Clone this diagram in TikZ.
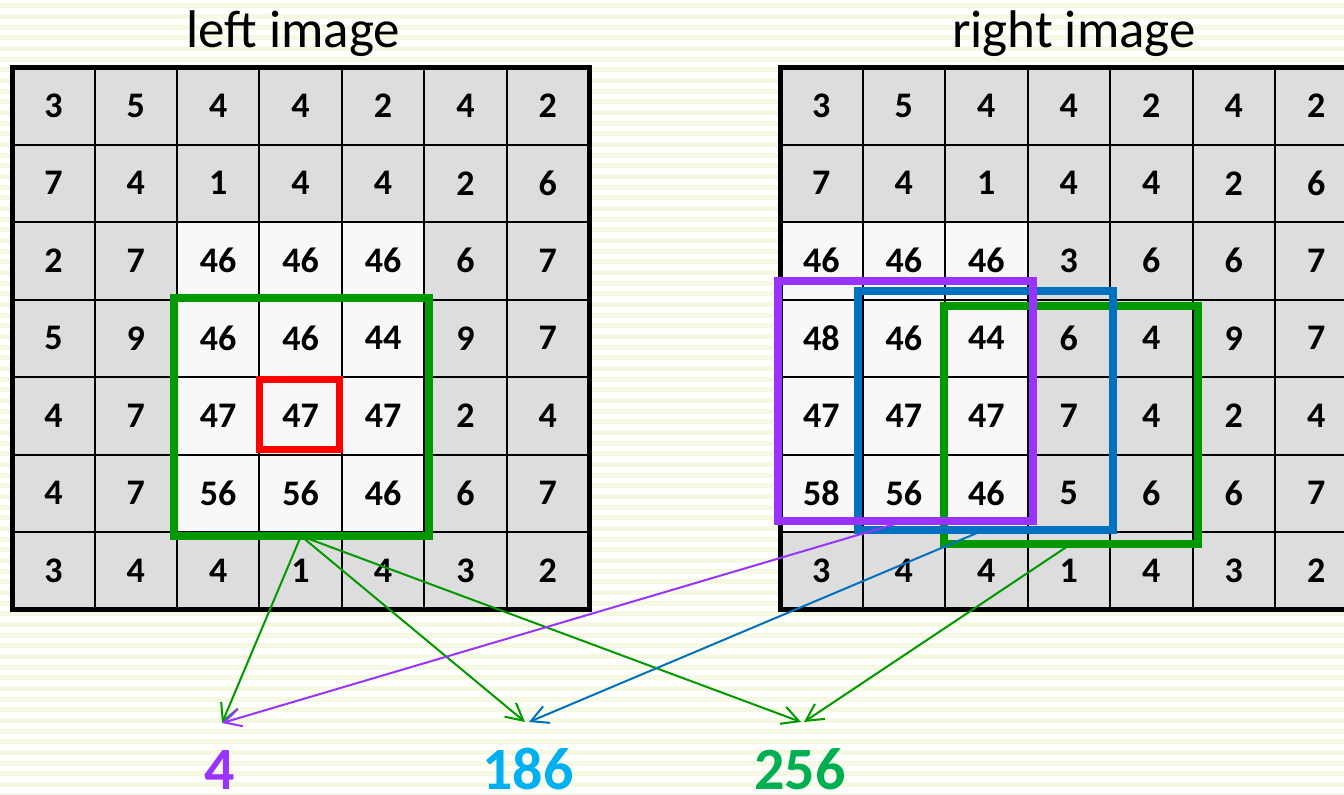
\documentclass[tikz,border=0pt]{standalone}
\usepackage{fontspec}
\setmainfont{Carlito}
\usetikzlibrary{arrows.meta}
\definecolor{stripe}{HTML}{F6F9E1}
\definecolor{cellg}{HTML}{DDDDDD}
\definecolor{cellw}{HTML}{F8F8F8}
\definecolor{boxgreen}{HTML}{009900}
\definecolor{boxred}{HTML}{FF0000}
\definecolor{boxpurple}{HTML}{9933FF}
\definecolor{boxblue}{HTML}{0070C0}
\definecolor{lblcyan}{HTML}{00B0F0}
\definecolor{lblgreen}{HTML}{00B050}
\tikzset{
  cellbox/.style={draw=black, line width=2pt, minimum width=82.4pt, minimum height=77.5pt,
    inner sep=0pt, outer sep=0pt, font=\fontsize{36}{36}\selectfont\bfseries},
  gridframe/.style={draw=black, line width=5pt, inner sep=0pt, outer sep=0pt},
  selbox/.style={line width=8pt, inner sep=0pt, outer sep=0pt},
  title/.style={anchor=base, inner sep=0pt, font=\fontsize{53}{53}\selectfont},
  result/.style={anchor=base, inner sep=0pt, font=\fontsize{60}{60}\selectfont\bfseries},
  link/.style={line width=2pt, -{Straight Barb[length=17pt,width=18pt,line width=2pt]}},
}
\begin{document}
\begin{tikzpicture}[x=1pt,y=-1pt]
\useasboundingbox (0,0) rectangle (1344,795);
\begin{scope}
\clip (0,0) rectangle (1344,795);
\fill[white] (0,0) rectangle (1344,795);
\foreach \k in {0,...,75} \fill[stripe] (0,{3.3+\k*10.667}) rectangle (1344,{8.3+\k*10.667});

% titles
\node[title] (tl) at (293.5,47) {left image};
\node[title] (tr) at (1074,47) {right image};

% left grid
\foreach \row [count=\r from 0] in {{3,5,4,4,2,4,2},{7,4,1,4,4,2,6},{2,7,46,46,46,6,7},{5,9,46,46,44,9,7},{4,7,47,47,47,2,4},{4,7,56,56,46,6,7},{3,4,4,1,4,3,2}}{
  \foreach \v [count=\c from 0] in \row {
    \pgfmathtruncatemacro\isw{(\r>=2)*(\r<=5)*(\c>=2)*(\c<=4)}
    \ifnum\isw=1 \def\cf{cellw}\else\def\cf{cellg}\fi
    \node[cellbox, fill=\cf] (L-\r-\c) at ({12.2+(\c+0.5)*82.4},{67+(\r+0.5)*77.5}) {\v};
  }
}
\node[gridframe, minimum width=576.8pt, minimum height=542.5pt] (Lgrid) at (300.6,338.25) {};

% right grid
\foreach \row [count=\r from 0] in {{3,5,4,4,2,4,2},{7,4,1,4,4,2,6},{46,46,46,3,6,6,7},{48,46,44,6,4,9,7},{47,47,47,7,4,2,4},{58,56,46,5,6,6,7},{3,4,4,1,4,3,2}}{
  \foreach \v [count=\c from 0] in \row {
    \pgfmathtruncatemacro\isw{(\r>=2)*(\r<=5)*(\c<=2)}
    \ifnum\isw=1 \def\cf{cellw}\else\def\cf{cellg}\fi
    \node[cellbox, minimum width=82.5pt, fill=\cf] (R-\r-\c) at ({780+(\c+0.5)*82.5},{67+(\r+0.5)*77.5}) {\v};
  }
}
\node[gridframe, minimum width=577.5pt, minimum height=542.5pt] (Rgrid) at (1068.75,338.25) {};

% selection boxes
\node[selbox, draw=boxgreen, minimum width=255pt, minimum height=238pt] (Lg) at (301,417) {};
\node[selbox, draw=boxred, line width=7pt, minimum width=79.5pt, minimum height=70pt] (Lr) at (299.25,414.5) {};
\node[selbox, draw=boxgreen, minimum width=254pt, minimum height=238pt] (Rg) at (1071,425) {};
\node[selbox, draw=boxblue, minimum width=254.5pt, minimum height=238.5pt] (Rb) at (985.25,410.25) {};
\node[selbox, draw=boxpurple, minimum width=254.5pt, minimum height=240pt] (Rp) at (905.25,401) {};

% results
\node[result, text=boxpurple] (n4) at (220,789) {4};
\node[result, text=lblcyan] (n186) at (528,789) {186};
\node[result, text=lblgreen] (n256) at (800,789) {256};

% arrow ends
\coordinate (e4a) at (222,723);
\coordinate (e4b) at (222,723);
\coordinate (e186a) at (525,722);
\coordinate (e186b) at (529,722);
\coordinate (e256a) at (801,722);
\coordinate (e256b) at (804,722);

% arrows
\draw[link, draw=boxgreen] (Lg.south) -- (e4a);
\draw[link, draw=boxgreen] (Lg.south) -- (e186a);
\draw[link, draw=boxgreen] (Lg.south) -- (e256a);
\draw[link, draw=boxpurple] (Rp.south) -- (e4b);
\draw[link, draw=boxblue] (Rb.south) -- (e186b);
\draw[link, draw=boxgreen] (Rg.south) -- (e256b);
\end{scope}
\end{tikzpicture}
\end{document}
